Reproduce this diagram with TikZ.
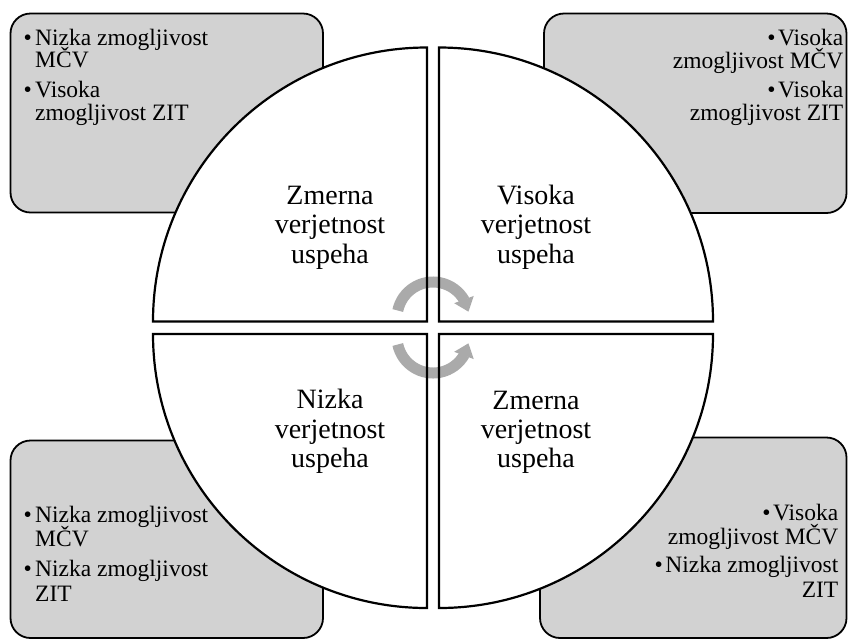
\documentclass[tikz,border=0pt]{standalone}
\usepackage{fontspec}
\setmainfont{Liberation Serif}
\usetikzlibrary{arrows.meta,bending}
\definecolor{boxgray}{RGB}{210,210,210}
\definecolor{arrowgray}{RGB}{170,170,170}
\begin{document}
\begin{tikzpicture}[x=1pt,y=-1pt,
  infobox/.style={draw=black, line width=1.8pt, fill=boxgray, rounded corners=20pt},
  quadfill/.style={fill=white},
  quadline/.style={draw=black, line width=2.2pt},
  bigline/.style={font=\fontsize{28}{29.5}\selectfont, inner sep=0pt, anchor=base},
  smallleft/.style={font=\fontsize{23.5}{23}\selectfont, inner sep=0pt, anchor=base west},
  smallright/.style={font=\fontsize{23.5}{23}\selectfont, inner sep=0pt, anchor=base east},
  cyclearrow/.style={draw=arrowgray, line width=11pt, -{Triangle[width=20pt,length=13pt]}}]
\useasboundingbox (0,0) rectangle (848,641);

% corner information boxes
\draw[infobox] (10.5,13.5) rectangle (323,212.5);
\draw[infobox] (544,13.5) rectangle (846.5,213);
\draw[infobox] (10.5,440.5) rectangle (323,638);
\draw[infobox] (540,437.5) rectangle (846.5,638);

% quadrant corners
\coordinate (qtl) at (427,321.5);
\coordinate (qtr) at (439,321.5);
\coordinate (qbl) at (427,334);
\coordinate (qbr) at (439,334);

% white quarter discs
\fill[quadfill] (qtl) -- ++(-274,0) arc[start angle=180, end angle=270, radius=274] -- cycle;
\fill[quadfill] (qtr) -- ++(0,-274) arc[start angle=270, end angle=360, radius=274] -- cycle;
\fill[quadfill] (qbl) -- ++(-274,0) arc[start angle=180, end angle=90, radius=274] -- cycle;
\fill[quadfill] (qbr) -- ++(274,0) arc[start angle=0, end angle=90, radius=274] -- cycle;

% cycle arrows in the middle
\coordinate (arctop) at (433,318);
\coordinate (arcbot) at (433,337);
\draw[cyclearrow] (arctop) ++(192:36) arc[start angle=192, end angle=350, radius=36];
\draw[cyclearrow] (arcbot) ++(168:36) arc[start angle=168, end angle=10, radius=36];

% quadrant outlines
\draw[quadline] (qtl) -- ++(-274,0) arc[start angle=180, end angle=270, radius=274] -- cycle;
\draw[quadline] (qtr) -- ++(0,-274) arc[start angle=270, end angle=360, radius=274] -- cycle;
\draw[quadline] (qbl) -- ++(-274,0) arc[start angle=180, end angle=90, radius=274] -- cycle;
\draw[quadline] (qbr) -- ++(274,0) arc[start angle=0, end angle=90, radius=274] -- cycle;

% quadrant labels
\node[bigline] (tla) at (330,204.5) {Zmerna};
\node[bigline] (tlb) at (330,233.5) {verjetnost};
\node[bigline] (tlc) at (330,263) {uspeha};
\node[bigline] (tra) at (536,204.5) {Visoka};
\node[bigline] (trb) at (536,233.5) {verjetnost};
\node[bigline] (trc) at (536,263) {uspeha};
\node[bigline] (bla) at (330,408.5) {Nizka};
\node[bigline] (blb) at (330,438) {verjetnost};
\node[bigline] (blc) at (330,467.5) {uspeha};
\node[bigline] (bra) at (536,409) {Zmerna};
\node[bigline] (brb) at (536,438) {verjetnost};
\node[bigline] (brc) at (536,467.5) {uspeha};

% box texts, top left
\node[smallleft] (tl1) at (23.5,45) {\makebox[11.5pt][l]{\textbullet}Nizka zmogljivost};
\node[smallleft] (tl2) at (35,67) {MČV};
\node[smallleft] (tl3) at (23.5,97) {\makebox[11.5pt][l]{\textbullet}Visoka};
\node[smallleft] (tl4) at (35,120) {zmogljivost ZIT};
% top right
\node[smallright] (tr1) at (843.5,45) {\textbullet\hspace{2.5pt}Visoka};
\node[smallright] (tr2) at (843.5,68) {zmogljivost MČV};
\node[smallright] (tr3) at (843.5,97) {\textbullet\hspace{2.5pt}Visoka};
\node[smallright] (tr4) at (843.5,120) {zmogljivost ZIT};
% bottom left
\node[smallleft] (bl1) at (23.5,522.5) {\makebox[11.5pt][l]{\textbullet}Nizka zmogljivost};
\node[smallleft] (bl2) at (35,546.5) {MČV};
\node[smallleft] (bl3) at (23.5,576.5) {\makebox[11.5pt][l]{\textbullet}Nizka zmogljivost};
\node[smallleft] (bl4) at (35,601.5) {ZIT};
% bottom right
\node[smallright] (br1) at (838.5,520) {\textbullet\hspace{2.5pt}Visoka};
\node[smallright] (br2) at (838.5,544) {zmogljivost MČV};
\node[smallright] (br3) at (838.5,572) {\textbullet\hspace{2.5pt}Nizka zmogljivost};
\node[smallright] (br4) at (838.5,597) {ZIT};
\end{tikzpicture}
\end{document}
